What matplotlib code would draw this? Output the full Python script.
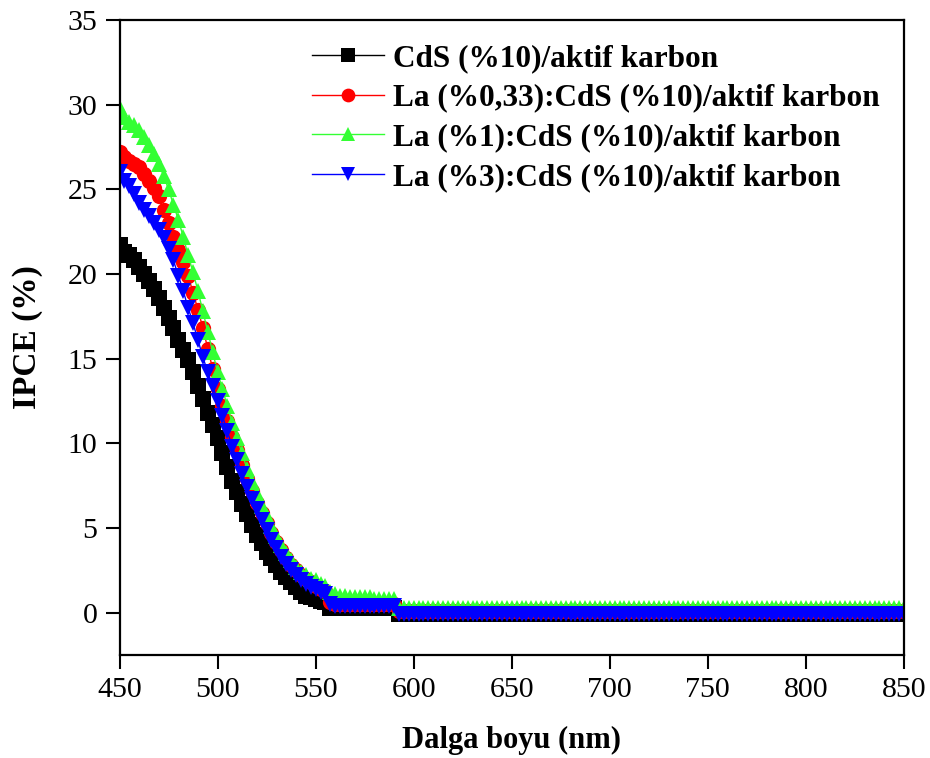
import numpy as np
import matplotlib
matplotlib.use("Agg")
import matplotlib.pyplot as plt

# IPCE spectra every 2.5 nm from 450 to 850 nm
wavelength = np.arange(450, 850.1, 2.5)

# 450 ... 555 nm (43 points)
cds_edge = [21.7, 21.3, 21.1, 20.8, 20.4, 20.0, 19.6, 19.1, 18.6, 18.0,
            17.4, 16.8, 16.1, 15.5, 14.9, 14.2, 13.4, 12.6, 11.8, 11.1,
            10.3, 9.4, 8.6, 7.8, 7.1, 6.4, 5.8, 5.2, 4.6, 4.1,
            3.6, 3.2, 2.8, 2.4, 2.1, 1.8, 1.5, 1.2, 1.0, 0.9,
            0.8, 0.7, 0.6]
la033_edge = [27.2, 26.9, 26.7, 26.5, 26.3, 25.9, 25.5, 25.1, 24.6, 23.8,
              23.0, 22.2, 21.4, 20.7, 19.9, 18.9, 17.9, 16.8, 15.6, 14.4,
              13.2, 12.2, 11.3, 10.4, 9.6, 8.7, 7.9, 7.2, 6.5, 5.9,
              5.3, 4.7, 4.2, 3.7, 3.2, 2.8, 2.5, 2.2, 2.0, 1.8,
              1.6, 1.4, 1.3]
la1_edge = [29.8, 29.3, 29.0, 28.8, 28.5, 28.1, 27.6, 27.1, 26.5, 25.8,
            25.0, 24.1, 23.2, 22.2, 21.1, 20.1, 19.0, 17.8, 16.6, 15.4,
            14.2, 13.2, 12.2, 11.2, 10.3, 9.4, 8.5, 7.7, 7.0, 6.3,
            5.7, 5.1, 4.5, 4.0, 3.5, 3.1, 2.7, 2.4, 2.2, 2.0,
            1.9, 1.7, 1.6]
la3_edge = [26.0, 25.5, 25.2, 24.7, 24.2, 23.8, 23.4, 23.0, 22.6, 22.1,
            21.5, 20.8, 19.9, 19.0, 18.0, 17.1, 16.1, 15.1, 14.2, 13.4,
            12.5, 11.6, 10.7, 9.8, 9.0, 8.2, 7.4, 6.7, 6.1, 5.5,
            4.9, 4.3, 3.8, 3.3, 2.9, 2.5, 2.2, 1.9, 1.7, 1.5,
            1.4, 1.2, 1.1]

# 557.5 ... 590 nm plateau (14 points)
cds_mid = [0.3, 0.3, 0.3, 0.3, 0.3, 0.3, 0.3, 0.3, 0.3, 0.3, 0.3, 0.3, 0.3, 0.3]
la033_mid = [0.6, 0.5, 0.5, 0.5, 0.5, 0.5, 0.5, 0.5, 0.5, 0.5, 0.5, 0.5, 0.5, 0.5]
la1_mid = [1.2, 1.1, 1.0, 1.0, 0.9, 0.9, 0.9, 0.9, 0.9, 0.8, 0.8, 0.8, 0.8, 0.8]
la3_mid = [0.5, 0.4, 0.4, 0.4, 0.4, 0.4, 0.4, 0.4, 0.4, 0.4, 0.4, 0.4, 0.4, 0.4]

# 592.5 ... 850 nm flat tail (104 points)
cds = cds_edge + cds_mid + [-0.1] * 104
la033 = la033_edge + la033_mid + [0.1] * 104
la1 = la1_edge + la1_mid + [0.3] * 104
la3 = la3_edge + la3_mid + [-0.1] * 104

labels = ["CdS (%10)/aktif karbon",
          "La (%0,33):CdS (%10)/aktif karbon",
          "La (%1):CdS (%10)/aktif karbon",
          "La (%3):CdS (%10)/aktif karbon"]
colors = ["#000000", "#ff0000", "#33ff33", "#0000ff"]
markers = ["s", "o", "^", "v"]

plt.rcParams["font.family"] = ["Liberation Serif", "DejaVu Serif"]

fig = plt.figure(figsize=(9.3, 7.58), dpi=100)
ax = fig.add_axes([0.1285, 0.1359, 0.8435, 0.8377])

for ys, lab, c, m in zip([cds, la033, la1, la3], labels, colors, markers):
    ax.plot(wavelength, ys, color=c, marker=m, markersize=11, lw=1,
            markeredgewidth=0, label=lab)

ax.set_xlim(450, 850)
ax.set_ylim(-2.5, 35)
ax.set_xticks(np.arange(450, 851, 50))
ax.set_yticks(np.arange(0, 36, 5))
ax.tick_params(direction="out", length=10, width=1.5, labelsize=21.5, pad=6)
for s in ax.spines.values():
    s.set_linewidth(1.6)

ax.set_xlabel("Dalga boyu (nm)", fontsize=22, fontweight="bold", labelpad=16)
ax.set_ylabel("IPCE (%)", fontsize=24, fontweight="bold", labelpad=18)

leg = ax.legend(loc="upper left", bbox_to_anchor=(312 / 930, 1 - 44 / 758),
                bbox_transform=fig.transFigure, frameon=False, borderpad=0,
                borderaxespad=0, handlelength=2.3, handletextpad=0.3,
                labelspacing=0.34, markerscale=0.9,
                prop={"weight": "bold", "size": 22.5})

fig.savefig("out.png", dpi=100)
